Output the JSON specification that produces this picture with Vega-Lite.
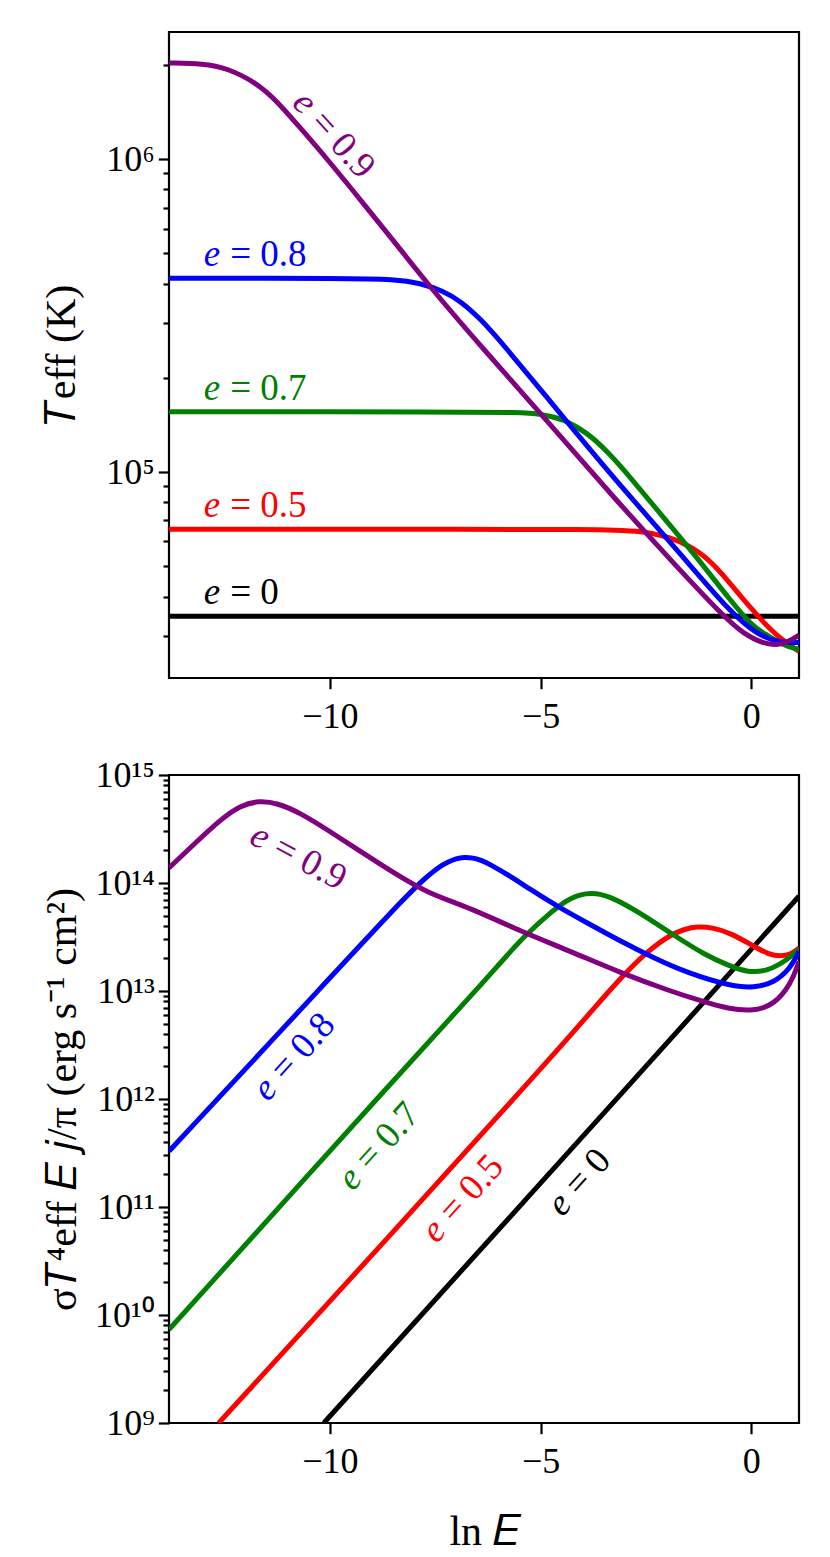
{
  "$schema": "https://vega.github.io/schema/vega-lite/v6.json",
  "description": "Effective temperature and emitted flux versus ln E for several eccentricities.",
  "background": "white",
  "padding": {"left": 39, "top": 30, "right": 5, "bottom": 5},
  "bounds": "flush",
  "spacing": 97,
  "datasets": {
    "top": [
      {"e": "0", "x": -13.8155, "y": 34600}, {"e": "0", "x": 1.13, "y": 34600},
      {"e": "0.5", "x": -13.8155, "y": 65600}, {"e": "0.5", "x": -6, "y": 65600}, {"e": "0.5", "x": -4, "y": 65500},
      {"e": "0.5", "x": -3.2, "y": 65200}, {"e": "0.5", "x": -2.63, "y": 64700}, {"e": "0.5", "x": -1.99, "y": 62400},
      {"e": "0.5", "x": -1.37, "y": 57300}, {"e": "0.5", "x": -0.89, "y": 50800}, {"e": "0.5", "x": -0.42, "y": 42700},
      {"e": "0.5", "x": -0.02, "y": 36800}, {"e": "0.5", "x": 0.46, "y": 31200}, {"e": "0.5", "x": 0.77, "y": 28800},
      {"e": "0.5", "x": 1.13, "y": 26700},
      {"e": "0.7", "x": -13.8155, "y": 155700}, {"e": "0.7", "x": -7, "y": 155700}, {"e": "0.7", "x": -5.5, "y": 155000},
      {"e": "0.7", "x": -5.0, "y": 153500}, {"e": "0.7", "x": -4.45, "y": 147600}, {"e": "0.7", "x": -3.89, "y": 133400},
      {"e": "0.7", "x": -3.42, "y": 116600}, {"e": "0.7", "x": -2.86, "y": 95800}, {"e": "0.7", "x": -2.08, "y": 71400},
      {"e": "0.7", "x": -1.28, "y": 53200}, {"e": "0.7", "x": -0.49, "y": 38700}, {"e": "0.7", "x": 0.06, "y": 31800},
      {"e": "0.7", "x": 0.3, "y": 30600}, {"e": "0.7", "x": 0.7, "y": 28100}, {"e": "0.7", "x": 1.13, "y": 27100},
      {"e": "0.8", "x": -13.8155, "y": 416400}, {"e": "0.8", "x": -9.5, "y": 416000}, {"e": "0.8", "x": -8.49, "y": 413000},
      {"e": "0.8", "x": -7.85, "y": 402000}, {"e": "0.8", "x": -7.3, "y": 378000}, {"e": "0.8", "x": -6.9, "y": 352000},
      {"e": "0.8", "x": -6.42, "y": 308000}, {"e": "0.8", "x": -5.95, "y": 262000}, {"e": "0.8", "x": -4.45, "y": 149000},
      {"e": "0.8", "x": -3.27, "y": 95800}, {"e": "0.8", "x": -1.68, "y": 54700}, {"e": "0.8", "x": -0.45, "y": 35000},
      {"e": "0.8", "x": 0.14, "y": 30300}, {"e": "0.8", "x": 0.62, "y": 28500}, {"e": "0.8", "x": 1.13, "y": 28500},
      {"e": "0.9", "x": -13.8155, "y": 2030000}, {"e": "0.9", "x": -13.0, "y": 2020000}, {"e": "0.9", "x": -12.44, "y": 1956000},
      {"e": "0.9", "x": -11.73, "y": 1751000}, {"e": "0.9", "x": -11.25, "y": 1531000}, {"e": "0.9", "x": -10.7, "y": 1258000},
      {"e": "0.9", "x": -10.06, "y": 1000000}, {"e": "0.9", "x": -9.27, "y": 740000}, {"e": "0.9", "x": -8.48, "y": 547000},
      {"e": "0.9", "x": -7.69, "y": 400000}, {"e": "0.9", "x": -6.42, "y": 252500}, {"e": "0.9", "x": -4.84, "y": 145400},
      {"e": "0.9", "x": -3.26, "y": 82700}, {"e": "0.9", "x": -1.68, "y": 48300}, {"e": "0.9", "x": -0.65, "y": 34500},
      {"e": "0.9", "x": -0.2, "y": 30500}, {"e": "0.9", "x": 0.3, "y": 28200}, {"e": "0.9", "x": 0.6, "y": 28000},
      {"e": "0.9", "x": 0.85, "y": 28500}, {"e": "0.9", "x": 1.13, "y": 30100}
    ],
    "bottom": [
      {"e": "0", "x": -10.144, "y": 1e9}, {"e": "0", "x": -2.389, "y": 2.23e12}, {"e": "0", "x": 1.13, "y": 7.55e13},
      {"e": "0.5", "x": -12.636, "y": 1e9}, {"e": "0.5", "x": -8.7, "y": 4.79e10}, {"e": "0.5", "x": -4.76, "y": 2.4e12},
      {"e": "0.5", "x": -4.0, "y": 5.25e12}, {"e": "0.5", "x": -3.576, "y": 8.13e12}, {"e": "0.5", "x": -3.023, "y": 1.42e13},
      {"e": "0.5", "x": -2.467, "y": 2.33e13}, {"e": "0.5", "x": -1.914, "y": 3.33e13}, {"e": "0.5", "x": -1.6, "y": 3.72e13},
      {"e": "0.5", "x": -1.281, "y": 3.97e13}, {"e": "0.5", "x": -0.9, "y": 3.85e13}, {"e": "0.5", "x": -0.494, "y": 3.44e13},
      {"e": "0.5", "x": 0.063, "y": 2.59e13}, {"e": "0.5", "x": 0.4, "y": 2.19e13}, {"e": "0.5", "x": 0.7, "y": 2.09e13},
      {"e": "0.5", "x": 0.934, "y": 2.17e13}, {"e": "0.5", "x": 1.13, "y": 2.5e13},
      {"e": "0.7", "x": -13.8155, "y": 7.33e9}, {"e": "0.7", "x": -8.086, "y": 2.23e12}, {"e": "0.7", "x": -6.661, "y": 8.93e12},
      {"e": "0.7", "x": -6.028, "y": 1.69e13}, {"e": "0.7", "x": -5.396, "y": 3.21e13}, {"e": "0.7", "x": -4.684, "y": 5.68e13},
      {"e": "0.7", "x": -4.288, "y": 7.38e13}, {"e": "0.7", "x": -3.813, "y": 8.26e13}, {"e": "0.7", "x": -3.339, "y": 7.53e13},
      {"e": "0.7", "x": -2.705, "y": 5.47e13}, {"e": "0.7", "x": -1.914, "y": 3.44e13}, {"e": "0.7", "x": -1.124, "y": 2.17e13},
      {"e": "0.7", "x": -0.494, "y": 1.69e13}, {"e": "0.7", "x": -0.094, "y": 1.49e13}, {"e": "0.7", "x": 0.38, "y": 1.52e13},
      {"e": "0.7", "x": 0.855, "y": 1.95e13}, {"e": "0.7", "x": 1.13, "y": 2.42e13},
      {"e": "0.8", "x": -13.8155, "y": 3.28e11}, {"e": "0.8", "x": -10.0, "y": 1.32e13}, {"e": "0.8", "x": -8.045, "y": 8.7e13},
      {"e": "0.8", "x": -7.689, "y": 1.15e14}, {"e": "0.8", "x": -7.4, "y": 1.42e14}, {"e": "0.8", "x": -7.2, "y": 1.56e14},
      {"e": "0.8", "x": -7.0, "y": 1.68e14}, {"e": "0.8", "x": -6.82, "y": 1.74e14}, {"e": "0.8", "x": -6.6, "y": 1.71e14},
      {"e": "0.8", "x": -6.4, "y": 1.62e14}, {"e": "0.8", "x": -6.187, "y": 1.48e14}, {"e": "0.8", "x": -5.712, "y": 1.15e14},
      {"e": "0.8", "x": -5.237, "y": 8.69e13}, {"e": "0.8", "x": -4.604, "y": 6.08e13}, {"e": "0.8", "x": -3.892, "y": 4.27e13},
      {"e": "0.8", "x": -3.101, "y": 2.89e13}, {"e": "0.8", "x": -2.311, "y": 2.02e13}, {"e": "0.8", "x": -1.518, "y": 1.47e13},
      {"e": "0.8", "x": -0.494, "y": 1.11e13}, {"e": "0.8", "x": 0.063, "y": 1.07e13}, {"e": "0.8", "x": 0.538, "y": 1.19e13},
      {"e": "0.8", "x": 0.934, "y": 1.63e13}, {"e": "0.8", "x": 1.13, "y": 2.33e13},
      {"e": "0.9", "x": -13.8155, "y": 1.38e14}, {"e": "0.9", "x": -13.229, "y": 2.27e14}, {"e": "0.9", "x": -12.596, "y": 3.86e14},
      {"e": "0.9", "x": -12.121, "y": 5.21e14}, {"e": "0.9", "x": -11.686, "y": 5.79e14}, {"e": "0.9", "x": -11.25, "y": 5.51e14},
      {"e": "0.9", "x": -10.697, "y": 4.45e14}, {"e": "0.9", "x": -10.063, "y": 3.12e14}, {"e": "0.9", "x": -9.272, "y": 1.96e14},
      {"e": "0.9", "x": -8.482, "y": 1.24e14}, {"e": "0.9", "x": -7.689, "y": 8.07e13}, {"e": "0.9", "x": -6.661, "y": 5.87e13},
      {"e": "0.9", "x": -5.475, "y": 3.57e13}, {"e": "0.9", "x": -4.288, "y": 2.33e13}, {"e": "0.9", "x": -3.101, "y": 1.47e13},
      {"e": "0.9", "x": -1.914, "y": 9.93e12}, {"e": "0.9", "x": -1.124, "y": 7.94e12}, {"e": "0.9", "x": -0.569, "y": 6.87e12},
      {"e": "0.9", "x": 0.063, "y": 6.49e12}, {"e": "0.9", "x": 0.538, "y": 7.48e12}, {"e": "0.9", "x": 0.934, "y": 1.15e13},
      {"e": "0.9", "x": 1.13, "y": 1.88e13}
    ],
    "topFlat": [
      {"e": "0.8", "rest": "= 0.8", "x": -12.6, "y": 455000},
      {"e": "0.7", "rest": "= 0.7", "x": -12.6, "y": 170100},
      {"e": "0.5", "rest": "= 0.5", "x": -12.6, "y": 71600},
      {"e": "0", "rest": "= 0", "x": -12.6, "y": 37850}
    ],
    "topSlant": [
      {"e": "0.9", "rest": "= 0.9", "x": -10.466, "y": 1447000}
    ],
    "bottomLabels": [
      {"e": "0.9", "rest": "= 0.9", "x": -11.48, "y": 2.48e14},
      {"e": "0.8", "rest": "= 0.8", "x": -11.404, "y": 1.41e12},
      {"e": "0.7", "rest": "= 0.7", "x": -9.391, "y": 2.09e11},
      {"e": "0.5", "rest": "= 0.5", "x": -7.404, "y": 6.86e10},
      {"e": "0", "rest": "= 0", "x": -4.421, "y": 1.21e11}
    ]
  },
  "vconcat": [
    {
      "width": 630,
      "height": 646,
      "layer": [
        {
          "data": {"name": "top"},
          "mark": {"type": "line", "strokeWidth": 5, "clip": true, "interpolate": "basis"},
          "encoding": {
            "x": {
              "field": "x", "type": "quantitative",
              "scale": {"domain": [-13.8155, 1.13], "nice": false, "zero": false},
              "axis": {"values": [-10, -5, 0], "title": null, "tickSize": 10.7, "labelPadding": 11}
            },
            "y": {
              "field": "y", "type": "quantitative",
              "scale": {"type": "log", "domain": [21960, 2549000], "nice": false},
              "axis": {
                "title": "𝑇eff (K)",
                "values": [30000, 40000, 50000, 60000, 70000, 80000, 90000, 100000, 200000, 300000, 400000, 500000, 600000, 700000, 800000, 900000, 1000000, 2000000],
                "labelExpr": "datum.value == 100000 ? '10⁵' : datum.value == 1000000 ? '10⁶' : ''",
                "tickSize": {"condition": {"test": "datum.value == 100000 || datum.value == 1000000", "value": 10.7}, "value": 6},
                "labelPadding": 4,
                "titlePadding": 22
              }
            },
            "color": {
              "field": "e", "type": "nominal",
              "scale": {"domain": ["0", "0.5", "0.7", "0.8", "0.9"], "range": ["black", "red", "green", "blue", "purple"]},
              "legend": null
            }
          }
        },
        {
          "data": {"name": "topFlat"},
          "mark": {"type": "text", "text": "e", "align": "right", "baseline": "alphabetic", "fontSize": 37, "font": "Liberation Serif", "fontStyle": "italic"},
          "encoding": {
            "x": {"field": "x", "type": "quantitative"},
            "y": {"field": "y", "type": "quantitative"},
            "color": {"field": "e", "type": "nominal", "legend": null}
          }
        },
        {
          "data": {"name": "topFlat"},
          "mark": {"type": "text", "align": "left", "baseline": "alphabetic", "fontSize": 37, "font": "Liberation Serif", "dx": 10},
          "encoding": {
            "x": {"field": "x", "type": "quantitative"},
            "y": {"field": "y", "type": "quantitative"},
            "text": {"field": "rest"},
            "color": {"field": "e", "type": "nominal", "legend": null}
          }
        },
        {
          "data": {"name": "topSlant"},
          "mark": {"type": "text", "text": "e", "align": "right", "baseline": "middle", "fontSize": 37, "font": "Liberation Serif", "fontStyle": "italic", "angle": 48},
          "encoding": {
            "x": {"field": "x", "type": "quantitative"},
            "y": {"field": "y", "type": "quantitative"},
            "color": {"field": "e", "type": "nominal", "legend": null}
          }
        },
        {
          "data": {"name": "topSlant"},
          "mark": {"type": "text", "align": "left", "baseline": "middle", "fontSize": 37, "font": "Liberation Serif", "angle": 48, "dx": 10},
          "encoding": {
            "x": {"field": "x", "type": "quantitative"},
            "y": {"field": "y", "type": "quantitative"},
            "text": {"field": "rest"},
            "color": {"field": "e", "type": "nominal", "legend": null}
          }
        }
      ]
    },
    {
      "width": 630,
      "height": 648,
      "layer": [
        {
          "data": {"name": "bottom"},
          "mark": {"type": "line", "strokeWidth": 5, "clip": true, "interpolate": "basis"},
          "encoding": {
            "x": {
              "field": "x", "type": "quantitative",
              "scale": {"domain": [-13.8155, 1.13], "nice": false, "zero": false},
              "axis": {"values": [-10, -5, 0], "title": "ln 𝐸", "tickSize": 10.7, "labelPadding": 11, "titlePadding": 32}
            },
            "y": {
              "field": "y", "type": "quantitative",
              "scale": {"type": "log", "domain": [1e9, 1e15], "nice": false},
              "axis": {
                "title": "σ𝑇⁴eff 𝐸 𝑗/π (erg s⁻¹ cm²)",
                "values": [1e9, 2e9, 3e9, 4e9, 5e9, 6e9, 7e9, 8e9, 9e9, 1e10, 2e10, 3e10, 4e10, 5e10, 6e10, 7e10, 8e10, 9e10, 1e11, 2e11, 3e11, 4e11, 5e11, 6e11, 7e11, 8e11, 9e11, 1e12, 2e12, 3e12, 4e12, 5e12, 6e12, 7e12, 8e12, 9e12, 1e13, 2e13, 3e13, 4e13, 5e13, 6e13, 7e13, 8e13, 9e13, 1e14, 2e14, 3e14, 4e14, 5e14, 6e14, 7e14, 8e14, 9e14, 1e15],
                "labelExpr": "datum.value == 1e9 ? '10⁹' : datum.value == 1e10 ? '10¹⁰' : datum.value == 1e11 ? '10¹¹' : datum.value == 1e12 ? '10¹²' : datum.value == 1e13 ? '10¹³' : datum.value == 1e14 ? '10¹⁴' : datum.value == 1e15 ? '10¹⁵' : ''",
                "tickSize": {"condition": {"test": "indexof([1e9, 1e10, 1e11, 1e12, 1e13, 1e14, 1e15], datum.value) >= 0", "value": 10.7}, "value": 6},
                "labelPadding": 4,
                "titlePadding": 10
              }
            },
            "color": {
              "field": "e", "type": "nominal",
              "scale": {"domain": ["0", "0.5", "0.7", "0.8", "0.9"], "range": ["black", "red", "green", "blue", "purple"]},
              "legend": null
            }
          }
        },
        {
          "data": {"name": "bottomLabels"},
          "mark": {"type": "text", "text": "e", "align": "right", "baseline": "middle", "fontSize": 37, "font": "Liberation Serif", "fontStyle": "italic"},
          "encoding": {
            "x": {"field": "x", "type": "quantitative"},
            "y": {"field": "y", "type": "quantitative"},
            "angle": {"condition": {"test": "datum.e == '0.9'", "value": 28}, "value": 312},
            "color": {"field": "e", "type": "nominal", "legend": null}
          }
        },
        {
          "data": {"name": "bottomLabels"},
          "mark": {"type": "text", "align": "left", "baseline": "middle", "fontSize": 37, "font": "Liberation Serif", "dx": 10},
          "encoding": {
            "x": {"field": "x", "type": "quantitative"},
            "y": {"field": "y", "type": "quantitative"},
            "text": {"field": "rest"},
            "angle": {"condition": {"test": "datum.e == '0.9'", "value": 28}, "value": 312},
            "color": {"field": "e", "type": "nominal", "legend": null}
          }
        }
      ]
    }
  ],
  "config": {
    "font": "Liberation Serif",
    "view": {"stroke": "black", "strokeWidth": 2.2},
    "axis": {
      "grid": false,
      "domain": false,
      "labelFont": "Liberation Serif",
      "labelFontSize": 36,
      "labelColor": "black",
      "tickColor": "black",
      "tickWidth": 2.2,
      "titleFont": "Liberation Serif",
      "titleFontSize": 42,
      "titleFontWeight": "normal",
      "titleColor": "black"
    }
  }
}
